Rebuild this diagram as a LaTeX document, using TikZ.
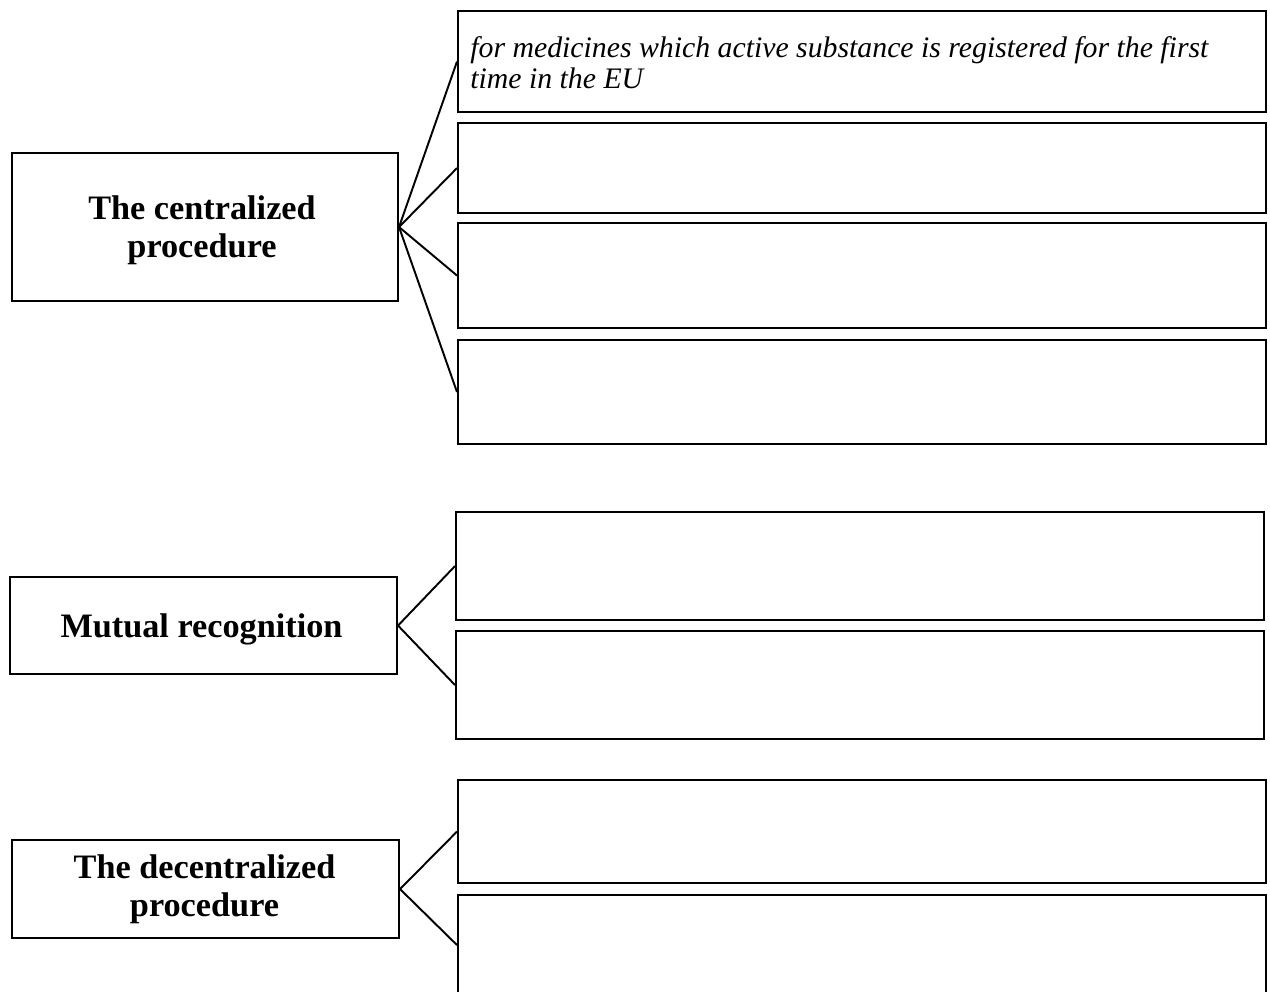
\documentclass[tikz,border=0pt]{standalone}
\usepackage{fontspec}
\setmainfont{Liberation Serif}
\begin{document}
\begin{tikzpicture}[x=0.02cm,y=-0.02cm,
  box/.style={draw, line width=1.2pt, inner sep=0pt, anchor=north west},
  ltext/.style={inner sep=0pt, align=center, font=\fontsize{19.5}{21.5}\selectfont\bfseries},
  conn/.style={line width=1.1pt}]
\useasboundingbox (0,0) rectangle (1270,991);
% left boxes
\node[box, minimum width=7.72cm, minimum height=2.96cm] (L1) at (11,152) {};
\node[box, minimum width=7.74cm, minimum height=1.94cm] (L2) at (9,576) {};
\node[box, minimum width=7.74cm, minimum height=1.96cm] (L3) at (11,839) {};
\node[ltext, xshift=-0.06cm, yshift=-0.07cm] (T1) at (L1.center) {The centralized\\procedure};
\node[ltext, xshift=-0.04cm, yshift=-0.08cm] (T2) at (L2.center) {Mutual recognition};
\node[ltext, xshift=-0.02cm] (T3) at (L3.center) {The decentralized\\procedure};
% right boxes
\node[box, minimum width=16.16cm, minimum height=2.02cm] (A) at (457,10) {};
\node[box, minimum width=16.16cm, minimum height=1.80cm] (B) at (457,122) {};
\node[box, minimum width=16.16cm, minimum height=2.10cm] (C) at (457,222) {};
\node[box, minimum width=16.16cm, minimum height=2.08cm] (D) at (457,339) {};
\node[box, minimum width=16.16cm, minimum height=2.16cm] (E) at (455,511) {};
\node[box, minimum width=16.16cm, minimum height=2.16cm] (F) at (455,630) {};
\node[box, minimum width=16.16cm, minimum height=2.06cm] (G) at (457,779) {};
\node[box, minimum width=16.16cm, minimum height=2.00cm] (H) at (457,894) {};
% text in A
\node[anchor=north west, inner sep=0pt, align=left,
  font=\fontsize{16.95}{17.6}\selectfont\itshape] (At) at (470,36)
  {for medicines which active substance is registered for the first\\time in the EU};
% connectors
\foreach \t in {A,B,C,D} \draw[conn] (L1.east) -- (\t.west);
\foreach \t in {E,F} \draw[conn] (L2.east) -- (\t.west);
\foreach \t in {G,H} \draw[conn] (L3.east) -- (\t.west);
\end{tikzpicture}
\end{document}
